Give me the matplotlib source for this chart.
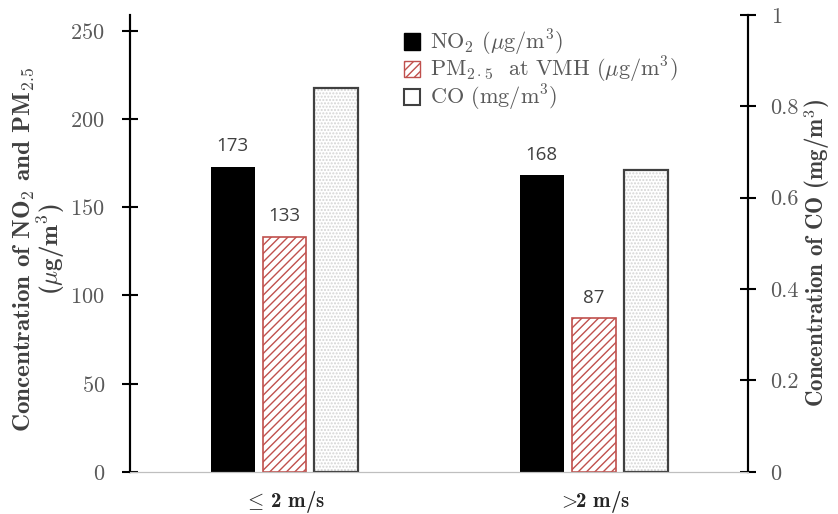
import matplotlib
import matplotlib.pyplot as plt
import numpy as np
from matplotlib.patches import Patch

matplotlib.use('Agg')

# wind speed classes and measured concentrations
classes = [r'$\leq\,$2 m/s', r'$>\!\!$2 m/s']
no2 = [173, 168]       # ug/m3
pm25 = [133, 87]       # ug/m3
co = [0.84, 0.66]      # mg/m3

SERIF = ['cmr10', 'DejaVu Serif']
BOLD = ['cmb10', 'DejaVu Serif']
GREY = '#595959'
RED = '#c0504d'

plt.rcParams['axes.formatter.use_mathtext'] = True
plt.rcParams['mathtext.fontset'] = 'cm'
plt.rcParams['hatch.linewidth'] = 1.0

fig = plt.figure(figsize=(8.38, 5.14), dpi=100)
ax = fig.add_axes([0.155, 0.082, 0.738, 0.889])
ax2 = ax.twinx()

x = np.arange(len(classes))
w = 0.142
step = 0.168

ax.bar(x - step, no2, w, color='black')
ax.bar(x, pm25, w, color='white', edgecolor=RED, hatch='////', linewidth=1.2)
# dotted fill for CO, then a dark outline on top
ax2.bar(x + step, co, w, color='white', edgecolor='#d4d4d4', hatch='.....', linewidth=0)
ax2.bar(x + step, co, w, fill=False, edgecolor='#404040', linewidth=1.6)

lab_font = dict(family='Open Sans', size=13.5, color='#404040', ha='center', va='center')
for xi, v in zip(x - step, no2):
    ax.annotate(f'{v}', (xi, v), xytext=(0, 15), textcoords='offset points', **lab_font)
for xi, v in zip(x, pm25):
    ax.annotate(f'{v}', (xi, v), xytext=(0, 15), textcoords='offset points', **lab_font)
for xi, v in zip(x + step, co):
    ax.annotate(f'{v:.2f}', (xi, v), xytext=(0, 15), textcoords='offset points', **lab_font)

ax.set_xlim(-0.5, 1.5)
ax.set_ylim(0, 259)
ax2.set_ylim(0, 1)
ax.set_yticks(np.arange(0, 251, 50))
ax2.set_yticks([0, 0.2, 0.4, 0.6, 0.8, 1])
ax2.set_yticklabels(['0', '0.2', '0.4', '0.6', '0.8', '1'])

ax.set_xticks(x)
ax.set_xticklabels(classes, family=BOLD, size=15, color='#262626')
ax.tick_params(axis='x', length=0, pad=12)

for a in (ax, ax2):
    a.spines['top'].set_visible(False)
    a.spines['bottom'].set_color('#bfbfbf')
    a.spines['left'].set_linewidth(1.5)
    a.spines['right'].set_linewidth(1.5)
ax.tick_params(axis='y', direction='inout', length=12, width=1.5, pad=12)
ax2.tick_params(axis='y', direction='inout', length=12, width=1.5, pad=10)
for t in ax.get_yticklabels() + ax2.get_yticklabels():
    t.set_family(SERIF)
    t.set_fontsize(16)
    t.set_color(GREY)

ax.set_ylabel('Concentration of NO$_2$ and PM$_{2.5}$\n($\\mu$g/m$^3$)',
              family=BOLD, size=18, color='#404040', linespacing=0.95)
ax.yaxis.set_label_coords(-0.102, 0.486)
ax2.set_ylabel('Concentration of CO (mg/m$^3$)', family=BOLD, size=16.5, color='#404040')
ax2.yaxis.set_label_coords(1.088, 0.48)

handles = [Patch(facecolor='black', edgecolor='black'),
           Patch(facecolor='white', edgecolor=RED, hatch='////'),
           Patch(facecolor='white', edgecolor='#404040', linewidth=1.5)]
labels = ['NO$_2$ ($\\mu$g/m$^3$)', 'PM$_{2\\cdot5}$  at VMH ($\\mu$g/m$^3$)', 'CO (mg/m$^3$)']
leg = fig.legend(handles, labels, loc='upper left', bbox_to_anchor=(0.458, 0.985),
                 frameon=False, handlelength=0.75, handleheight=0.75, handletextpad=0.45,
                 labelspacing=-0.1, prop=dict(family=SERIF, size=16))
for t in leg.get_texts():
    t.set_color(GREY)

fig.savefig('out.png', dpi=100)
